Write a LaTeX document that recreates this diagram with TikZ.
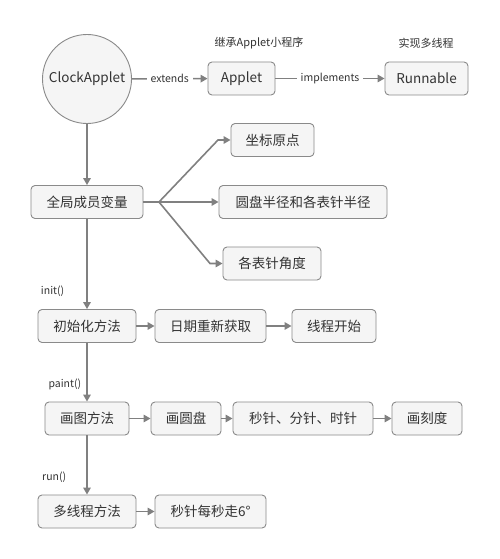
\documentclass[tikz,border=0pt]{standalone}
\usepackage{fontspec}
\setmainfont{Noto Sans CJK SC}
\usetikzlibrary{arrows.meta}
\definecolor{ln}{HTML}{808080}
\definecolor{bd}{HTML}{8A8A8A}
\definecolor{bx}{HTML}{F5F5F5}
\definecolor{tx}{HTML}{333333}
\begin{document}
\begin{tikzpicture}[x=1pt,y=-1pt,
  box/.style={draw=bd,fill=bx,rounded corners=4pt,line width=0.9pt,inner sep=0pt,minimum height=33pt,text=tx,font=\fontsize{13.5}{14}\selectfont},
  conn/.style={draw=ln,line width=1.6pt,-{Triangle[length=7pt,width=7.5pt]}},
  plain/.style={draw=ln,line width=1.6pt},
  lbl/.style={text=tx,font=\fontsize{10.5}{12}\selectfont,inner sep=1pt},
  elbl/.style={text=tx,font=\fontsize{10.5}{12}\selectfont,fill=white,inner sep=4pt}]
\useasboundingbox (0,0) rectangle (500,559);
\fill[white] (0,0) rectangle (500,559);
% top row
\node[circle,draw=bd,fill=bx,line width=0.9pt,minimum size=89pt,inner sep=0pt,text=tx,font=\fontsize{13.5}{14}\selectfont] (ca) at (87,79) {ClockApplet};
\node[box,minimum width=67pt] (ap) at (241.5,78.5) {Applet};
\node[box,minimum width=83pt] (rn) at (426.5,78.5) {Runnable};
\node[lbl,font=\fontsize{11}{12}\selectfont] (l1) at (259,43) {继承Applet小程序};
\node[lbl,font=\fontsize{11}{12}\selectfont] (l2) at (426,43) {实现多线程};
\draw[conn] (ca) -- node[elbl] {extends} (ap);
\draw[conn] (ap) -- node[elbl] {implements} (rn);
% globals
\node[box,minimum width=112pt] (gm) at (87,202) {全局成员变量};
\node[box,minimum width=83pt] (zb) at (272.5,140) {坐标原点};
\node[box,minimum width=168pt] (yp) at (303,202) {圆盘半径和各表针半径};
\node[box,minimum width=98pt] (jd) at (272,263.5) {各表针角度};
\draw[conn] (ca) -- (gm);
\coordinate (br) at (159,202);
\coordinate (k1) at (218,140);
\coordinate (k3) at (210,263.5);
\draw[plain] (gm.east) -- (br);
\draw[conn] (br) -- (k1) -- (zb.west);
\draw[conn] (br) -- (yp.west);
\draw[conn] (br) -- (k3) -- (jd.west);
% init
\node[box,minimum width=98pt] (in) at (87,326) {初始化方法};
\node[box,minimum width=111pt] (rq) at (210.5,326) {日期重新获取};
\node[box,minimum width=84pt] (xc) at (334,326) {线程开始};
\draw[conn] (gm) -- node[lbl,pos=0.8,left=21pt] {init()} (in);
\draw[conn] (in) -- (rq);
\draw[conn] (rq) -- (xc);
% paint
\node[box,minimum width=84pt] (pt) at (87,418.5) {画图方法};
\node[box,minimum width=70pt] (yu) at (186,418.5) {画圆盘};
\node[box,minimum width=140pt] (zz) at (303,418.5) {秒针、分针、时针};
\node[box,minimum width=70pt] (kd) at (427,418.5) {画刻度};
\draw[conn] (in) -- node[lbl,pos=0.7,left=4pt] {paint()} (pt);
\draw[conn] (pt) -- (yu);
\draw[conn] (yu) -- (zz);
\draw[conn] (zz) -- (kd);
% run
\node[box,minimum width=98pt] (mt) at (87,511.5) {多线程方法};
\node[box,minimum width=111pt] (mz) at (210.5,511.5) {秒针每秒走6°};
\draw[conn] (pt) -- node[lbl,pos=0.7,left=19pt] {run()} (mt);
\draw[conn] (mt) -- (mz);
\end{tikzpicture}
\end{document}
